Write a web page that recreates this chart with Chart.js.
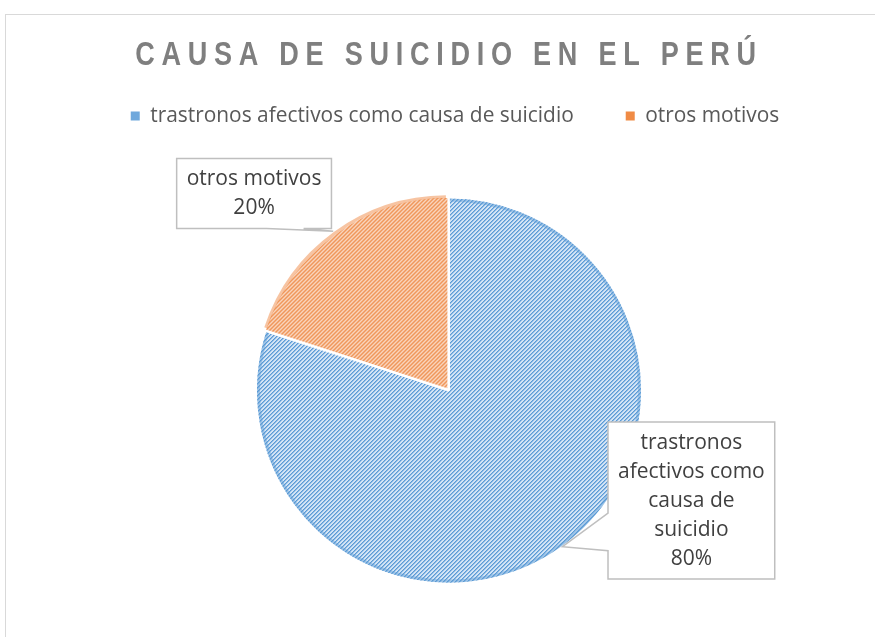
<!DOCTYPE html>
<html><head><meta charset="utf-8">
<script src="https://cdn.jsdelivr.net/npm/chart.js@4.4.1/dist/chart.umd.min.js"></script>
<style>
html,body{margin:0;padding:0;background:#fff;overflow:hidden;width:875px;height:637px;}
#frame{position:absolute;left:5px;top:14px;width:900px;height:700px;border-left:1px solid #d9d9d9;border-top:1px solid #d9d9d9;}
#wrap{position:absolute;left:0;top:0;width:875px;height:760px;}
</style></head><body>
<div id="frame"></div>
<div id="wrap"><canvas id="c" width="875" height="760"></canvas></div>
<script>
// ---- data ----
const chartTitle = 'CAUSA DE SUICIDIO EN EL PERÚ';
const categories = ['trastronos afectivos como causa de suicidio', 'otros motivos'];
const shares = [80, 20];

// ---- style ----
const STYLE = {
  dark: ['#5B9BD5', '#ED7D31'],
  mid: ['#8DB9E4', '#F2A46F'],
  light: ['#D3E4F5', '#FADBC6'],
  rim: ['rgba(91,155,213,0.45)', 'rgba(237,125,49,0.45)'],
  legend: ['#6FA8DC', '#F08B45'],
  textFont: '"Open Sans", "Liberation Sans", sans-serif',
  titleFont: '"Liberation Sans", Arial, sans-serif'
};

function stripePattern(i) {
  const n = 4;
  const c = document.createElement('canvas'); c.width = n; c.height = n;
  const g = c.getContext('2d');
  g.fillStyle = STYLE.light[i]; g.fillRect(0, 0, n, n);
  for (let y = 0; y < n; y++) for (let x = 0; x < n; x++) {
    const k = (x + y) % n;
    if (k === 0) { g.fillStyle = STYLE.dark[i]; g.fillRect(x, y, 1, 1); }
    else if (k === 1) { g.fillStyle = STYLE.mid[i]; g.fillRect(x, y, 1, 1); }
  }
  return g.createPattern(c, 'repeat');
}

function wrapText(ctx, text, maxW) {
  const words = text.split(' ');
  const lines = [];
  let cur = '';
  for (const w of words) {
    const t = cur ? cur + ' ' + w : w;
    if (cur && ctx.measureText(t).width > maxW) { lines.push(cur); cur = w; }
    else cur = t;
  }
  if (cur) lines.push(cur);
  return lines;
}

const TITLE_SPAN = 621;
const TITLE_SCALE_X = 0.82;
const LEGEND_SHIFT_X = 6;
const boxTweaks = {
  id: 'boxTweaks',
  beforeDraw(chart) {
    const tb = chart.titleBlock;
    if (tb && !tb._patched) {
      tb._patched = true;
      const orig = tb.draw;
      tb.draw = function (area) {
        const ctx = chart.ctx;
        const f = this.options.font;
        ctx.save();
        ctx.font = `${f.weight} ${f.size}px ${f.family}`;
        ctx.letterSpacing = '0px';
        const txt = this.options.text;
        const w = ctx.measureText(txt).width;
        const n = [...txt].length;
        ctx.letterSpacing = ((TITLE_SPAN / TITLE_SCALE_X - w) / (n - 1)) + 'px';
        const cx = (this.left + this.right) / 2;
        ctx.translate(cx, 0);
        ctx.scale(TITLE_SCALE_X, 1);
        ctx.translate(-cx, 0);
        orig.call(this, area);
        ctx.restore();
      };
    }
    const lg = chart.legend;
    if (lg && !lg._patched) {
      lg._patched = true;
      const origL = lg.draw;
      lg.draw = function (area) {
        const ctx = chart.ctx;
        ctx.save();
        ctx.translate(LEGEND_SHIFT_X, 0);
        origL.call(this, area);
        ctx.restore();
      };
    }
  }
};

const callouts = {
  id: 'callouts',
  afterDatasetsDraw(chart, args, opts) {
    const ctx = chart.ctx;
    const meta = chart.getDatasetMeta(0);
    const ds = chart.data.datasets[0];
    const total = ds.data.reduce((a, b) => a + b, 0);
    // soft rim
    meta.data.forEach((arc, i) => {
      const p = arc.getProps(['x', 'y', 'startAngle', 'endAngle', 'outerRadius'], true);
      const mid = (p.startAngle + p.endAngle) / 2;
      const off = arc.options.offset || 0;
      const cx = p.x + Math.cos(mid) * off, cy = p.y + Math.sin(mid) * off;
      ctx.save();
      ctx.beginPath();
      ctx.arc(cx, cy, p.outerRadius - 2.5, p.startAngle + 0.004, p.endAngle - 0.004);
      ctx.strokeStyle = STYLE.rim[i];
      ctx.lineWidth = 3;
      ctx.stroke();
      ctx.restore();
    });
    meta.data.forEach((arc, i) => {
      const p = arc.getProps(['x', 'y', 'startAngle', 'endAngle', 'outerRadius'], true);
      const mid = (p.startAngle + p.endAngle) / 2;
      const off = arc.options.offset || 0;
      const cx = p.x + Math.cos(mid) * off, cy = p.y + Math.sin(mid) * off;
      const tip = { x: cx + Math.cos(mid) * p.outerRadius, y: cy + Math.sin(mid) * p.outerRadius };
      const a = opts.anchors[i];
      const ang = a.angle * Math.PI / 180;
      const bx = p.x + Math.cos(ang) * a.dist * p.outerRadius;
      const by = p.y + Math.sin(ang) * a.dist * p.outerRadius;
      ctx.save();
      ctx.font = opts.font;
      const lines = wrapText(ctx, chart.data.labels[i], opts.wrapWidth);
      lines.push(Math.round(ds.data[i] / total * 100) + '%');
      const tw = Math.max(...lines.map(l => ctx.measureText(l).width));
      const w = tw + 2 * opts.padX, h = lines.length * opts.lineHeight + 2 * opts.padY;
      const l = bx - w / 2, t = by - h / 2, r = l + w, b = t + h;
      const dxg = tip.x < l ? l - tip.x : (tip.x > r ? tip.x - r : 0);
      const dyg = tip.y < t ? t - tip.y : (tip.y > b ? tip.y - b : 0);
      let side;
      if (dxg > dyg) side = tip.x < l ? 'left' : 'right';
      else side = tip.y < t ? 'top' : 'bottom';
      const f0 = 0.58, f1 = 0.82;
      let y0, y1, x0, x1;
      if (tip.y > by) { y0 = t + f0 * h; y1 = t + f1 * h; } else { y0 = b - f1 * h; y1 = b - f0 * h; }
      if (tip.x > bx) { x0 = l + f0 * w; x1 = l + f1 * w; } else { x0 = r - f1 * w; x1 = r - f0 * w; }
      ctx.beginPath();
      ctx.moveTo(l, t);
      if (side === 'top') { ctx.lineTo(x0, t); ctx.lineTo(tip.x, tip.y); ctx.lineTo(x1, t); }
      ctx.lineTo(r, t);
      if (side === 'right') { ctx.lineTo(r, y0); ctx.lineTo(tip.x, tip.y); ctx.lineTo(r, y1); }
      ctx.lineTo(r, b);
      if (side === 'bottom') { ctx.lineTo(x1, b); ctx.lineTo(tip.x, tip.y); ctx.lineTo(x0, b); }
      ctx.lineTo(l, b);
      if (side === 'left') { ctx.lineTo(l, y1); ctx.lineTo(tip.x, tip.y); ctx.lineTo(l, y0); }
      ctx.closePath();
      ctx.fillStyle = '#ffffff';
      ctx.fill();
      ctx.strokeStyle = '#BFBFBF';
      ctx.lineWidth = 1.5;
      ctx.stroke();
      ctx.fillStyle = '#404040';
      ctx.textAlign = 'center';
      ctx.textBaseline = 'middle';
      lines.forEach((ln, k) => ctx.fillText(ln, bx, t + opts.padY + opts.lineHeight * (k + 0.5)));
      ctx.restore();
    });
  }
};

const ctx = document.getElementById('c').getContext('2d');
new Chart(ctx, {
  type: 'pie',
  data: {
    labels: categories,
    datasets: [{
      data: shares,
      backgroundColor: [stripePattern(0), stripePattern(1)],
      borderColor: '#ffffff',
      borderWidth: 2,
      offset: [0, 4],
      hoverOffset: 0,
      radius: 193
    }]
  },
  options: {
    responsive: false,
    devicePixelRatio: 1,
    animation: false,
    events: [],
    layout: { padding: { top: 0, left: 23, right: 0, bottom: 115.35 } },
    plugins: {
      title: {
        display: true,
        text: chartTitle,
        color: '#7F7F7F',
        font: { family: STYLE.titleFont, size: 33, weight: 'bold', lineHeight: 1 },
        padding: { top: 39, bottom: -18.35 }
      },
      legend: {
        position: 'top',
        labels: {
          font: { family: STYLE.textFont, size: 20.9 },
          color: '#595959',
          boxWidth: 9,
          boxHeight: 9,
          padding: 52,
          generateLabels(chart) {
            return chart.data.labels.map((lab, i) => ({
              text: lab, fillStyle: STYLE.legend[i], strokeStyle: STYLE.legend[i],
              lineWidth: 0, hidden: false, index: i, fontColor: '#595959'
            }));
          }
        }
      },
      tooltip: { enabled: false },
      callouts: {
        anchors: [{ angle: 24.4, dist: 1.379 }, { angle: -134.7, dist: 1.436 }],
        font: '21px ' + STYLE.textFont,
        wrapWidth: 150,
        padX: 10,
        padY: 6,
        lineHeight: 29
      }
    }
  },
  plugins: [boxTweaks, callouts]
});
</script>
</body></html>
